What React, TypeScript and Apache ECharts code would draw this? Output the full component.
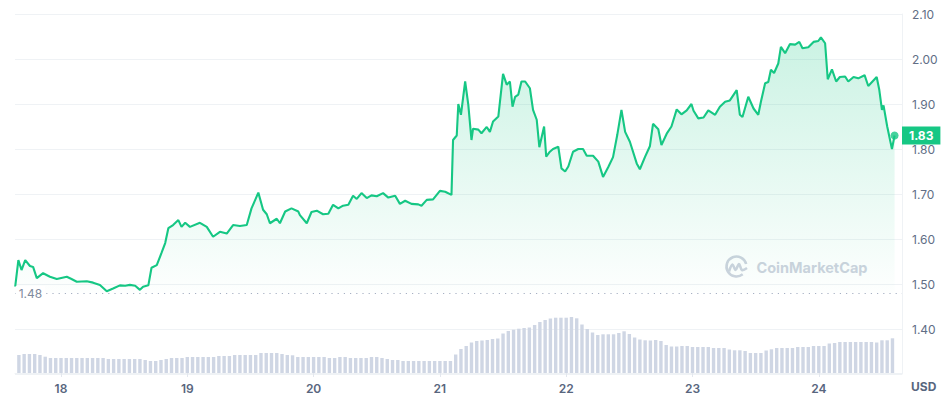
import React, { useEffect, useRef } from "react";
import * as echarts from "echarts";

// Time in hours since Jan 17 00:00 (x axis), price in USD
const priceHours = [15.3,15.9,16.5,17.2,18.1,18.7,19.4,20.6,21.9,23.2,25.1,26.0,27.0,28.9,30.1,31.4,32.7,33.9,35.2,36.2,37.1,38.1,39.0,39.6,40.6,41.2,42.2,43.1,43.8,44.4,45.3,46.3,46.9,47.6,48.5,50.4,51.7,52.9,54.2,55.5,56.7,58.0,59.3,60.2,61.5,62.4,63.1,63.7,65.0,65.6,66.6,67.8,69.1,69.4,70.7,71.6,72.6,73.8,74.8,75.7,76.7,77.6,78.6,79.5,80.2,81.1,82.1,83.0,84.0,85.2,86.2,87.5,88.4,89.4,90.6,91.9,92.5,93.5,94.7,96.0,97.0,98.2,98.5,99.2,99.5,100.0,100.8,101.4,102.0,102.3,103.3,103.9,104.9,105.5,106.1,107.1,108.0,108.7,109.3,109.8,110.3,110.9,111.5,112.2,113.1,113.7,114.4,114.9,115.8,116.2,116.9,117.5,118.5,119.1,119.8,120.4,121.3,122.3,123.2,123.9,125.1,126.1,127.0,128.0,128.9,129.7,130.5,131.2,132.1,133.4,134.0,135.0,135.9,136.5,137.5,138.1,139.1,140.0,141.0,141.9,142.9,143.8,144.2,145.1,146.1,147.0,148.3,149.2,150.2,151.1,152.4,153.0,153.5,154.6,155.6,156.5,157.0,157.8,158.4,158.9,159.5,160.3,160.8,161.6,162.5,163.5,164.3,164.9,166.0,167.0,167.9,168.4,169.2,169.7,170.5,171.3,172.0,173.0,173.6,174.6,175.5,176.7,177.4,179.0,179.5,180.0,180.3,181.0,181.9,182.4];

const prices = [1.494,1.553,1.531,1.553,1.540,1.538,1.513,1.524,1.516,1.511,1.516,1.511,1.505,1.506,1.503,1.498,1.484,1.490,1.497,1.496,1.498,1.496,1.487,1.494,1.497,1.536,1.542,1.569,1.591,1.624,1.631,1.642,1.627,1.636,1.627,1.636,1.627,1.605,1.616,1.612,1.631,1.629,1.631,1.668,1.703,1.665,1.655,1.635,1.645,1.635,1.661,1.668,1.661,1.653,1.635,1.660,1.663,1.655,1.656,1.676,1.668,1.674,1.676,1.696,1.689,1.702,1.691,1.697,1.695,1.702,1.692,1.696,1.678,1.685,1.678,1.677,1.674,1.687,1.688,1.707,1.705,1.698,1.820,1.830,1.900,1.876,1.950,1.898,1.820,1.845,1.843,1.835,1.849,1.838,1.861,1.872,1.967,1.943,1.950,1.894,1.916,1.921,1.950,1.950,1.935,1.887,1.865,1.804,1.850,1.783,1.794,1.800,1.805,1.757,1.750,1.761,1.794,1.800,1.800,1.785,1.785,1.772,1.738,1.760,1.782,1.831,1.887,1.838,1.816,1.768,1.755,1.783,1.806,1.856,1.844,1.809,1.834,1.850,1.888,1.877,1.886,1.900,1.885,1.868,1.870,1.886,1.876,1.894,1.905,1.908,1.931,1.876,1.871,1.916,1.890,1.876,1.905,1.946,1.949,1.976,1.969,1.990,2.027,2.013,2.033,2.032,2.038,2.024,2.026,2.038,2.040,2.048,2.035,1.955,1.977,1.950,1.960,1.961,1.950,1.960,1.957,1.964,1.940,1.960,1.931,1.887,1.897,1.850,1.800,1.830];

// Hourly volume bars, starting at hour 16 (arbitrary units)
const volumeStartHour = 16;
const volumes = [18,19,19,19,18,16.3,15,15,15,15,15,15,15,15,15,15,15,14,14,14,14,14,14,14,13,12,12,13,14,15,15,15,16,16,16,16,16,16,17,17,17,18,18,18,18,18,20,20,20,20,19,18,17.7,16,16,16,16,16,16,15,15,16,16,15,15,15,15,16,16,15,14,13,13,12,12,12,12,12,12,12,12,12,12,18.5,24,27,30.5,32,32.5,33,34,34.5,39.5,42,43.3,44.3,45,45.5,48,51,53,54.5,55.3,55.3,55.3,56,54.7,48.5,44,40.5,38,38.7,38.7,38.7,40,41.7,39,35.5,33.5,32.7,32.5,33,32,28,26.5,26.5,27,27,26,26,26,26,25,25,25,23.5,22.7,22.7,22,20,20,20,22.5,23.7,25,25,25,25,26,26,26,27,27,27,29.5,30,31,31,31,31,31,31,31,30.5,32.7,32.7,34.7];

const dayHours = [24, 48, 72, 96, 120, 144, 168];
const dayLabels = ["18", "19", "20", "21", "22", "23", "24"];

const openPrice = 1.48;
const xMin = 15.26;
const xMax = 183.81;

export default function App() {
  const ref = useRef<HTMLDivElement>(null);

  useEffect(() => {
    if (!ref.current) return;
    const chart = echarts.init(ref.current, undefined, { renderer: "svg" });
    const priceData = priceHours.map((h, i) => [h, prices[i]]);
    const volData = volumes.map((v, i) => [volumeStartHour + i, v]);
    const lastIdx = prices.length - 1;
    const lastPrice = prices[lastIdx];

    chart.setOption({
      animation: false,
      textStyle: { fontFamily: "Inter, sans-serif" },
      grid: { left: 15, right: 46, top: 14, bottom: 21, outerBoundsMode: "none", containLabel: false },
      xAxis: {
        type: "value",
        min: xMin,
        max: xMax,
        axisLine: { show: true, lineStyle: { color: "#eff2f5", width: 1 } },
        axisTick: {
          show: true,
          customValues: dayHours,
          length: 4,
          lineStyle: { color: "#e3e7ee" },
        },
        axisLabel: {
          customValues: dayHours,
          formatter: (v: number) => {
            const i = dayHours.indexOf(Math.round(v));
            return i >= 0 ? dayLabels[i] : "";
          },
          color: "#58667e",
          fontWeight: 600,
          fontSize: 12,
          margin: 8,
        },
        splitLine: { show: false },
      },
      yAxis: [
        {
          type: "value",
          position: "right",
          min: 1.3,
          max: 2.1,
          interval: 0.1,
          name: "USD",
          nameLocation: "start",
          nameGap: 12,
          nameTextStyle: {
            color: "#58667e",
            fontWeight: "bold",
            fontSize: 12,
            align: "left",
            verticalAlign: "middle",
            padding: [0, 0, 0, 9],
          },
          axisLine: { show: true, lineStyle: { color: "#eff2f5" } },
          axisTick: { show: false },
          axisLabel: {
            formatter: (v: number) => (v < 1.35 ? "" : v.toFixed(2)),
            color: "#616e85",
            fontSize: 12,
            margin: 10,
          },
          splitLine: { show: true, lineStyle: { color: "#eff2f5", width: 1 } },
        },
        {
          type: "value",
          min: -1,
          max: 359,
          show: false,
          splitLine: { show: false },
        },
      ],
      graphic: [
        {
          type: "group",
          left: 724,
          top: 254,
          silent: true,
          z: 1,
          children: [
            {
              type: "arc",
              shape: { cx: 12, cy: 12, r: 10, startAngle: 0.9, endAngle: 2 * Math.PI - 0.25, clockwise: true },
              style: { stroke: "#cdd3de", lineWidth: 2.6, fill: "none" },
            },
            {
              type: "polyline",
              shape: { points: [[4.5, 17], [8, 10], [11, 15.5], [14.5, 9.5], [17.5, 15.5], [22.5, 13.5]], smooth: 0.35 },
              style: { stroke: "#cdd3de", lineWidth: 2.6, fill: "none" },
            },
            {
              type: "text",
              x: 32,
              y: 12.5,
              style: {
                text: "CoinMarketCap",
                fill: "#cdd3de",
                font: "bold 14.5px Inter, sans-serif",
                verticalAlign: "middle",
              },
            },
          ],
        },
      ],
      series: [
        {
          type: "bar",
          yAxisIndex: 1,
          data: volData,
          barWidth: 3.4,
          silent: true,
          itemStyle: { color: "#cfd6e4" },
          z: 1,
        },
        {
          type: "line",
          data: priceData,
          showSymbol: false,
          symbol: "none",
          lineStyle: { color: "#16c784", width: 2.1 },
          areaStyle: {
            origin: openPrice,
            color: new echarts.graphic.LinearGradient(0, 0, 0, 1, [
              { offset: 0, color: "rgba(22,199,132,0.32)" },
              { offset: 1, color: "rgba(22,199,132,0.01)" },
            ]),
          },
          z: 3,
          markLine: {
            silent: true,
            symbol: ["none", "none"],
            data: [
              [
                {
                  coord: [priceHours[0], openPrice],
                  lineStyle: { color: "#a6b0c3", type: [1.2, 5], width: 1.2 },
                  label: {
                    show: true,
                    position: "start",
                    distance: -30,
                    formatter: openPrice.toFixed(2),
                    color: "#808a9d",
                    fontSize: 12,
                    backgroundColor: "#ffffff",
                    padding: [1, 3],
                  },
                },
                { coord: [xMax, openPrice] },
              ],
              {
                yAxis: lastPrice,
                lineStyle: { color: "rgba(0,0,0,0)", width: 1 },
                label: {
                  show: true,
                  position: "end",
                  distance: 0,
                  formatter: lastPrice.toFixed(2),
                  color: "#ffffff",
                  fontWeight: "bold",
                  fontSize: 12,
                  backgroundColor: "#16c784",
                  padding: [3, 7],
                },
              },
            ],
          },
        },
        {
          type: "scatter",
          data: [[priceHours[lastIdx], lastPrice]],
          symbolSize: 8,
          itemStyle: { color: "#16c784" },
          silent: true,
          z: 4,
        },
      ],
    });

    return () => chart.dispose();
  }, []);

  return (
    <div
      ref={ref}
      style={{ position: "fixed", left: 0, top: 0, width: 948, height: 395, background: "#fff" }}
    />
  );
}
